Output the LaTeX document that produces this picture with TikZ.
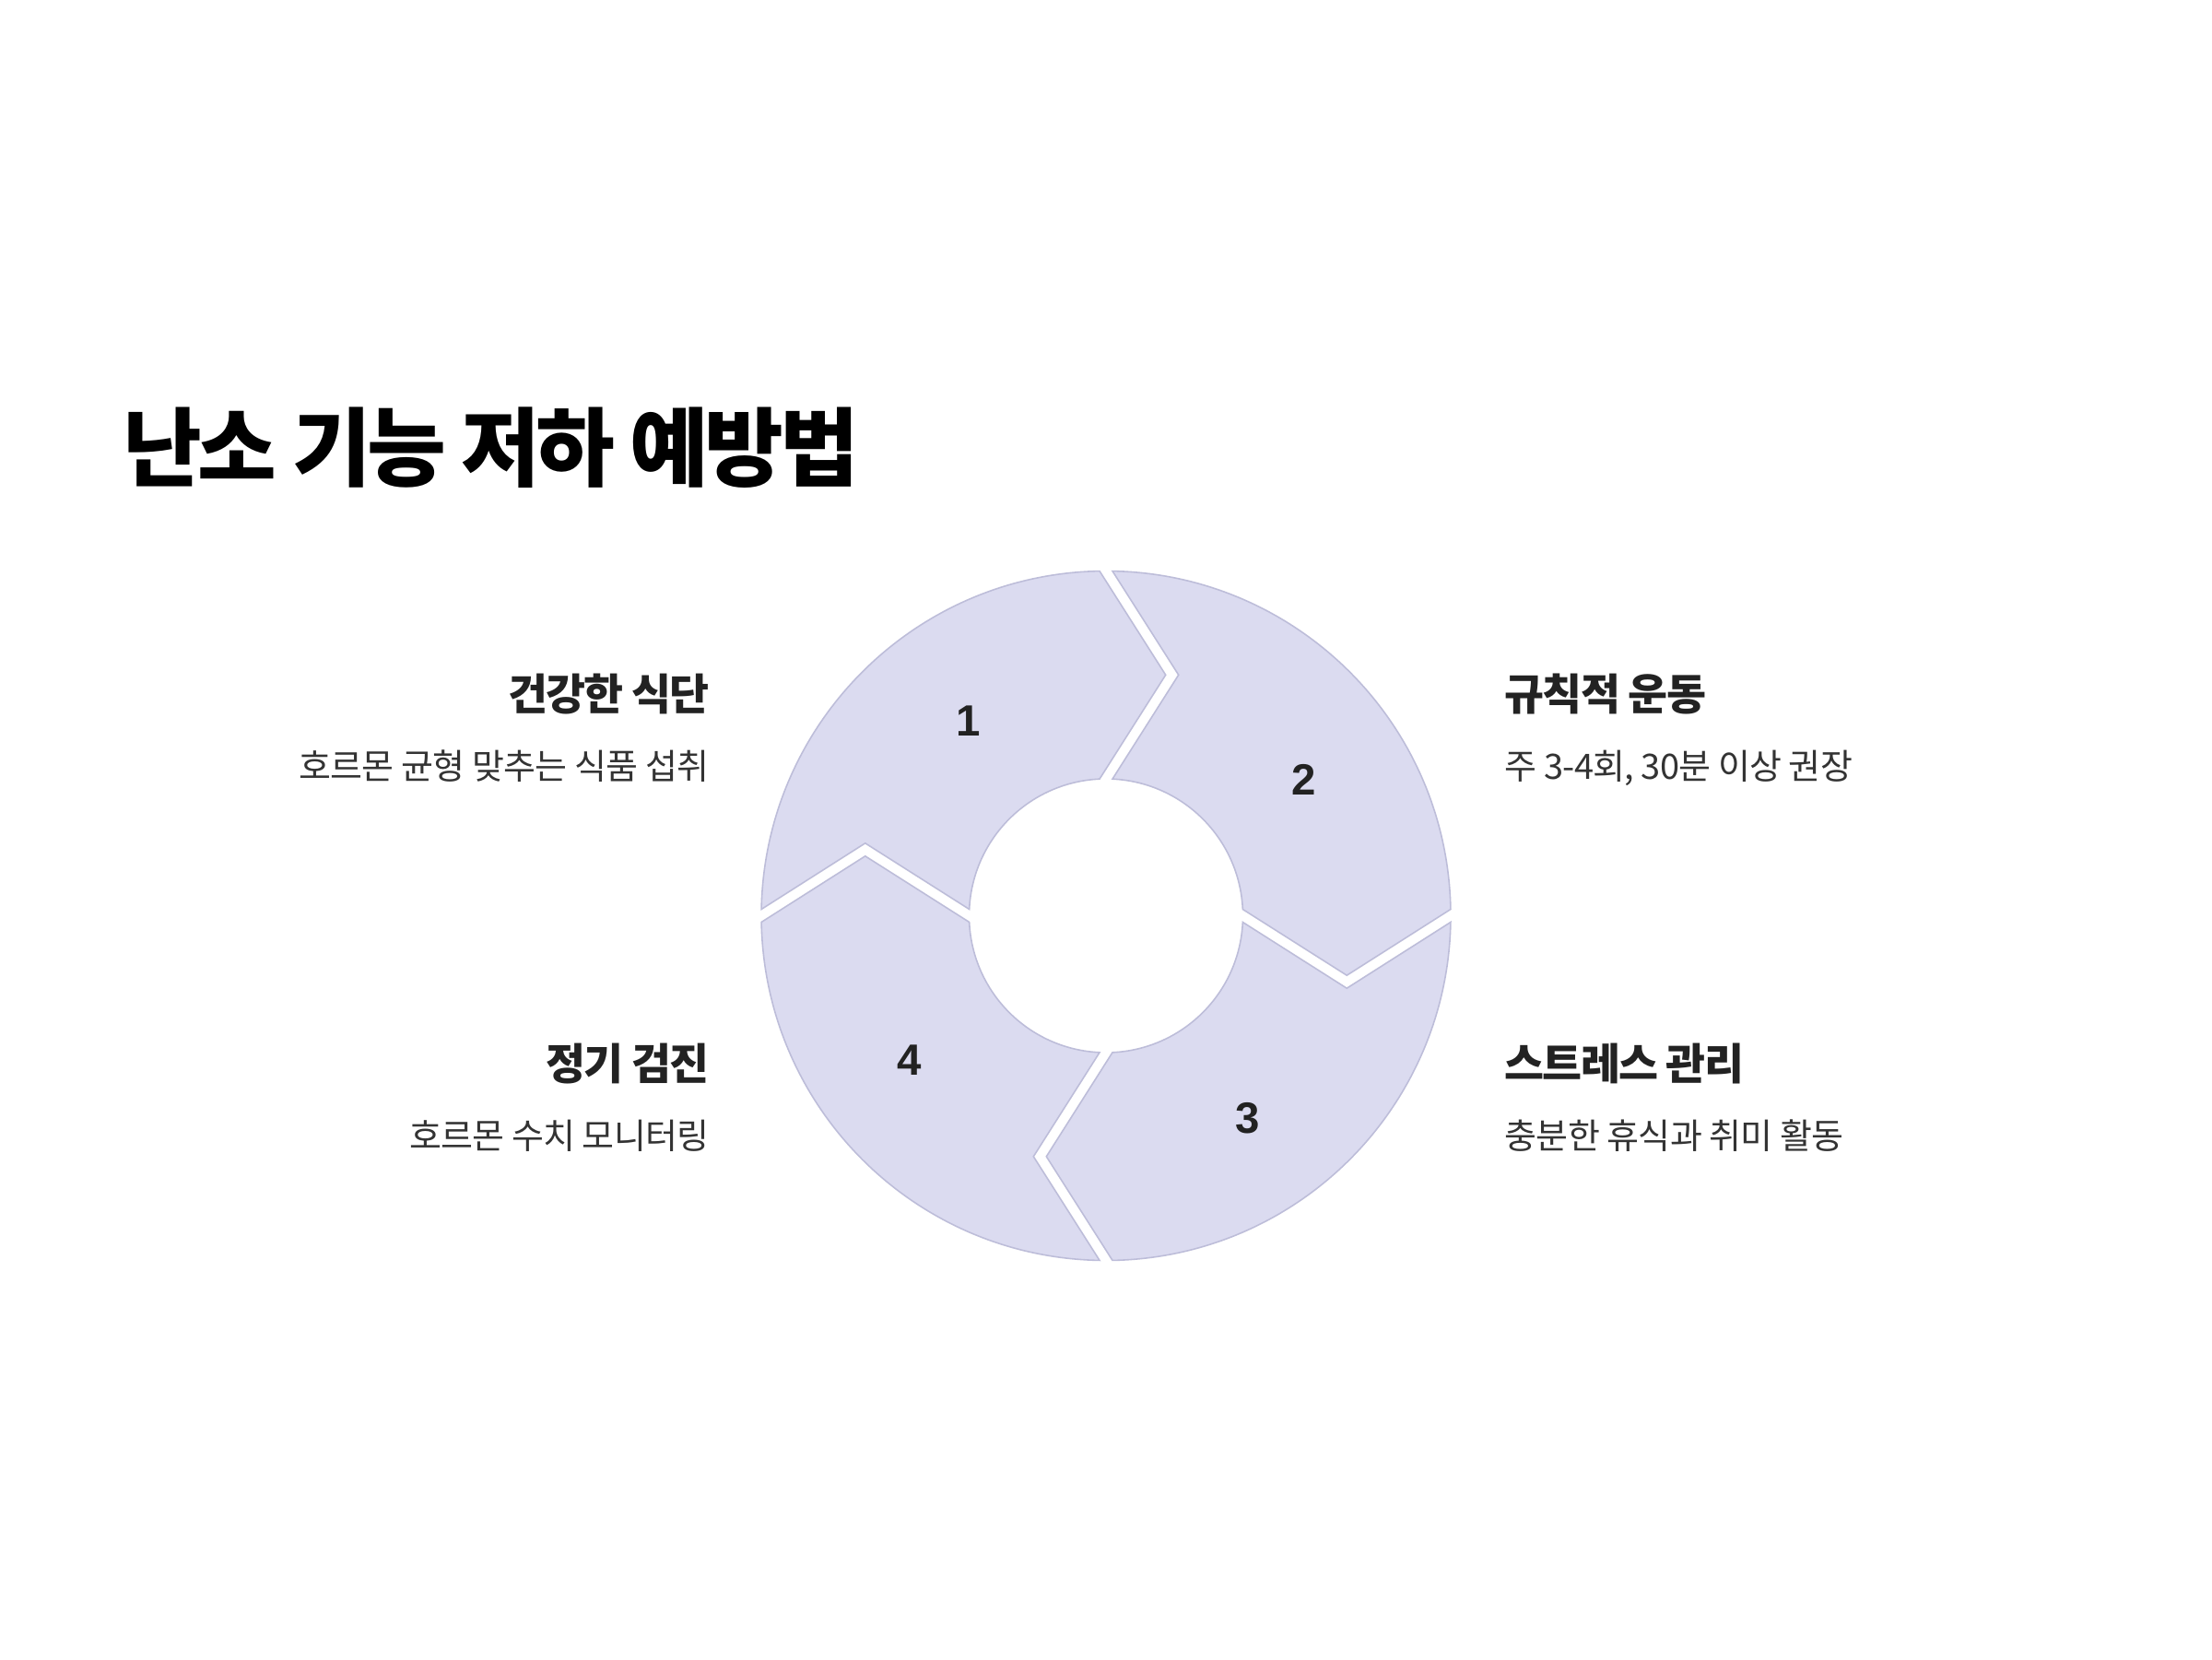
\documentclass[tikz,border=0pt]{standalone}
\usepackage{fontspec}
\usetikzlibrary{calc}
\newfontfamily\krtitle{Noto Sans CJK KR}[LetterSpace=-5]
\newfontfamily\krhead{Noto Sans CJK KR}[LetterSpace=-4]
\newfontfamily\krdesc{Noto Sans CJK KR}[LetterSpace=-2]
\newfontfamily\numfont{Liberation Sans}
\definecolor{segfill}{HTML}{DBDBF0}
\definecolor{segline}{HTML}{BDBDD9}
\definecolor{headcol}{HTML}{222222}
\definecolor{desccol}{HTML}{333333}
\begin{document}
\begin{tikzpicture}[
  seg/.style={fill=segfill, draw=segline, line width=0.45pt, line join=miter},
  numlabel/.style={inner sep=0pt, font=\numfont\bfseries\fontsize{13.5}{16}\selectfont, text=headcol},
  headL/.style={anchor=base east, inner sep=0pt, font=\krhead\bfseries\fontsize{13.3}{16}\selectfont, text=headcol},
  headR/.style={anchor=base west, inner sep=0pt, font=\krhead\bfseries\fontsize{13.3}{16}\selectfont, text=headcol},
  descL/.style={anchor=base east, inner sep=0pt, font=\krdesc\fontsize{10.8}{13}\selectfont, text=desccol},
  descR/.style={anchor=base west, inner sep=0pt, font=\krdesc\fontsize{10.8}{13}\selectfont, text=desccol}
]
\useasboundingbox (0,0) rectangle (24,18);
\fill[white] (0,0) rectangle (24,18);

\coordinate (C) at (12,8.065);
\pgfmathsetmacro\Ro{3.74}
\pgfmathsetmacro\Ri{1.485}
\pgfmathsetmacro\Rm{2.6125}
\pgfmathsetmacro\Dd{0.717}
\pgfmathsetmacro\Ss{0.07}
\pgfmathsetmacro\Ao{asin(\Ss/\Ro)}
\pgfmathsetmacro\Ai{asin(\Ss/\Ri)}
\pgfmathsetmacro\Tip{\Ss-\Dd}
\pgfmathsetmacro\Notch{\Dd+\Ss}

\foreach \b in {180,90,0,-90}{
  \pgfmathsetmacro\aS{\b-\Ao}
  \pgfmathsetmacro\aE{\b-90+\Ao}
  \pgfmathsetmacro\iS{\b-90+\Ai}
  \pgfmathsetmacro\iE{\b-\Ai}
  \pgfmathsetmacro\bm{\b-90}
  \draw[seg] ($(C)+(\aS:\Ro)$) arc[start angle=\aS, end angle=\aE, radius=\Ro]
     -- ($(C)+(\bm:\Rm)+(\b:\Tip)$)
     -- ($(C)+(\iS:\Ri)$) arc[start angle=\iS, end angle=\iE, radius=\Ri]
     -- ($(C)+(\b:\Rm)+(\bm:\Notch)$) -- cycle;
}

\node[numlabel] (n1) at (10.51,10.18) {1};
\node[numlabel] (n2) at (14.15,9.545) {2};
\node[numlabel] (n3) at (13.54,5.87) {3};
\node[numlabel] (n4) at (9.87,6.50) {4};

\node[anchor=base west, inner sep=0pt, font=\krtitle\bfseries\fontsize{26.5}{30}\selectfont, text=black] (title) at (1.33,12.80) {난소 기능 저하 예방법};

\node[headL] (h1) at (7.70,10.30) {건강한 식단};
\node[descL] (d1) at (7.70,9.55) {호르몬 균형 맞추는 식품 섭취};
\node[headR] (h2) at (16.32,10.30) {규칙적 운동};
\node[descR] (d2) at (16.32,9.55) {주 3-4회, 30분 이상 권장};
\node[headR] (h3) at (16.32,6.29) {스트레스 관리};
\node[descR] (d3) at (16.32,5.54) {충분한 휴식과 취미 활동};
\node[headL] (h4) at (7.70,6.29) {정기 검진};
\node[descL] (d4) at (7.70,5.54) {호르몬 수치 모니터링};
\end{tikzpicture}
\end{document}
